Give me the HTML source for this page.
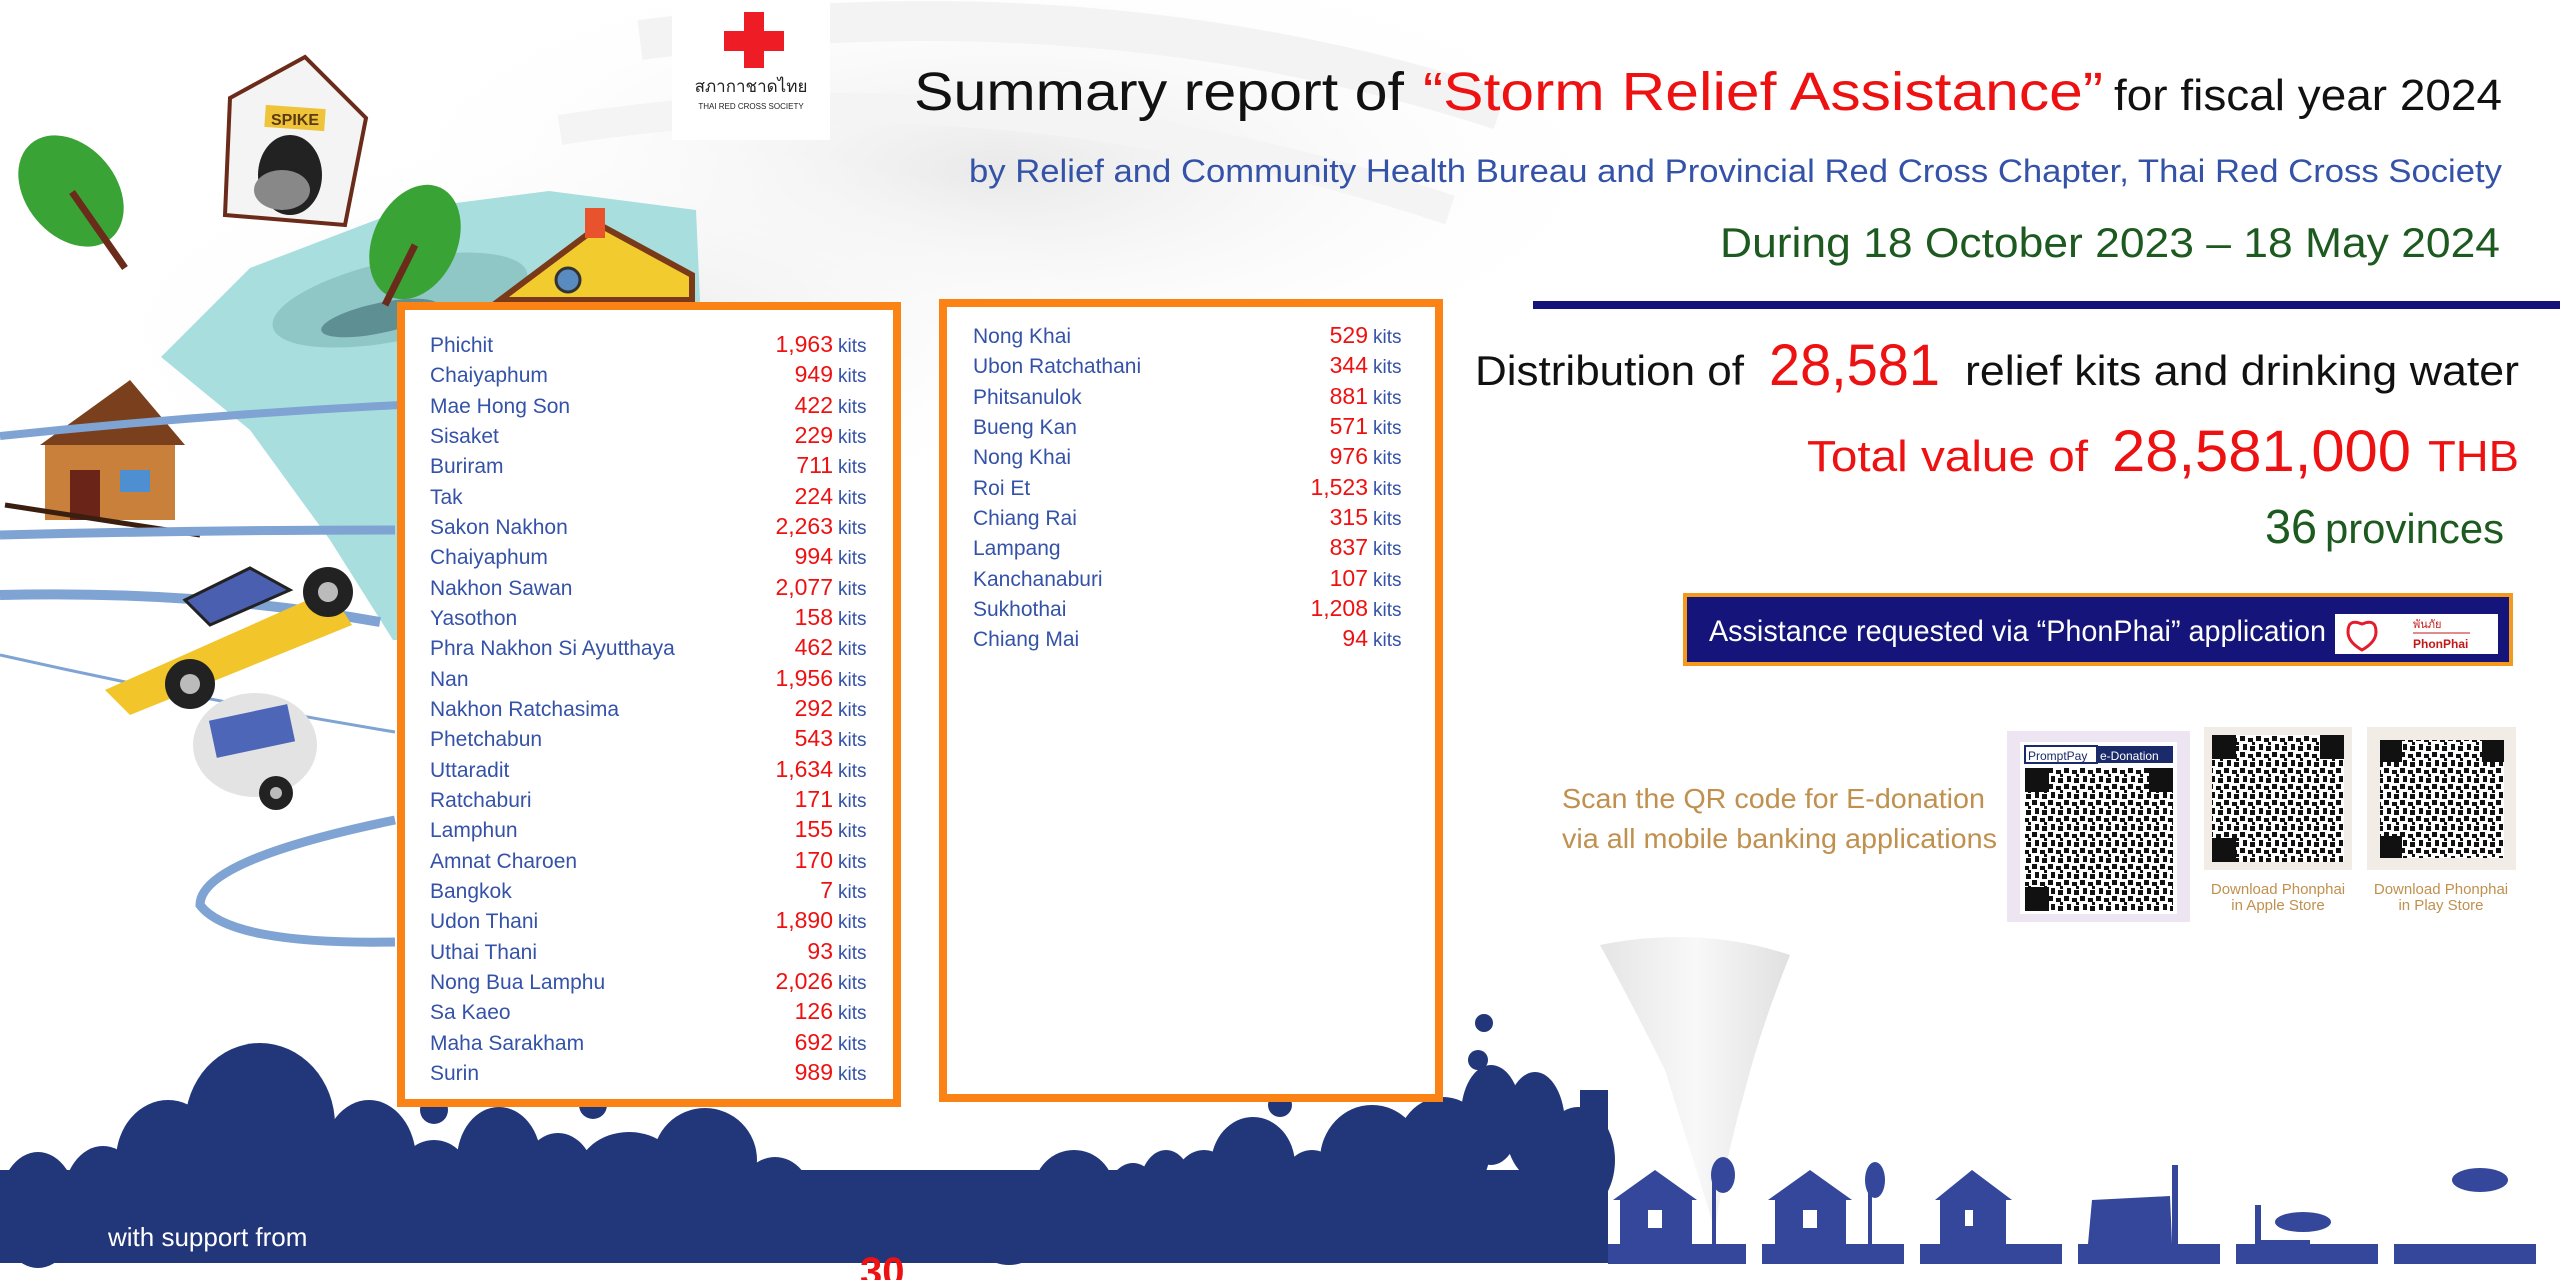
<!DOCTYPE html>
<html><head><meta charset="utf-8"><style>
html,body{margin:0;padding:0;background:#fff;}
svg{display:block;}
text{font-family:"Liberation Sans","Noto Sans CJK SC",sans-serif;}
</style></head><body>
<svg width="2560" height="1280" viewBox="0 0 2560 1280" xmlns="http://www.w3.org/2000/svg">
<defs>
<radialGradient id="gs" cx="0.5" cy="0.5" r="0.5"><stop offset="0" stop-color="#e9e9e9"/><stop offset="1" stop-color="#ffffff" stop-opacity="0"/></radialGradient>
<linearGradient id="tor" x1="0" y1="0" x2="1" y2="0"><stop offset="0" stop-color="#dcdcdc"/><stop offset="0.5" stop-color="#f6f6f6"/><stop offset="1" stop-color="#d6d6d6"/></linearGradient>
<pattern id="qr" width="16" height="16" patternUnits="userSpaceOnUse">
<rect width="16" height="16" fill="#fff"/><rect x="0" y="0" width="5" height="5" fill="#111"/><rect x="8" y="2" width="5" height="4" fill="#111"/><rect x="3" y="8" width="4" height="6" fill="#111"/><rect x="10" y="10" width="5" height="5" fill="#111"/><rect x="12" y="6" width="3" height="3" fill="#111"/>
</pattern>
</defs>

<!-- background swirl -->
<ellipse cx="1000" cy="170" rx="650" ry="230" fill="url(#gs)"/>
<ellipse cx="600" cy="330" rx="520" ry="200" fill="url(#gs)"/>
<path d="M640 40 Q1100 -20 1500 110" stroke="#f3f3f3" stroke-width="40" fill="none"/>
<path d="M560 130 Q1000 60 1450 210" stroke="#f4f4f4" stroke-width="30" fill="none"/>

<!-- left illustration -->
<polygon points="161,357 250,268 402,210 549,191 696,210 700,300 640,640 560,640 393,640 330,540 250,430" fill="#a8dede"/>
<ellipse cx="400" cy="300" rx="130" ry="40" fill="#8fc6c6" transform="rotate(-12 400 300)"/>
<ellipse cx="380" cy="318" rx="60" ry="15" fill="#5e8f93" transform="rotate(-12 380 318)"/>
<ellipse cx="71" cy="191" rx="45" ry="62" fill="#3aa335" transform="rotate(-40 71 191)"/>
<line x1="72" y1="192" x2="125" y2="268" stroke="#6b2b1b" stroke-width="7"/>
<ellipse cx="415" cy="242" rx="42" ry="60" fill="#3aa335" transform="rotate(25 415 242)"/>
<line x1="415" y1="245" x2="385" y2="305" stroke="#6b2b1b" stroke-width="7"/>
<polygon points="230,98 305,57 366,118 345,225 225,215" fill="#f4f4f4" stroke="#6b2b1b" stroke-width="4"/>
<rect x="265" y="107" width="60" height="22" fill="#f0c43a" transform="rotate(4 295 118)"/>
<text x="295" y="125" font-size="16" font-weight="bold" text-anchor="middle" fill="#5a3a10">SPIKE</text>
<ellipse cx="290" cy="175" rx="32" ry="40" fill="#222"/>
<ellipse cx="282" cy="190" rx="28" ry="20" fill="#888"/>
<polygon points="500,300 600,225 692,275 692,300" fill="#f2cc2e" stroke="#7a3a1a" stroke-width="6"/>
<rect x="585" y="208" width="20" height="30" fill="#e8522c"/>
<circle cx="568" cy="280" r="12" fill="#5a8bc0" stroke="#333" stroke-width="3"/>
<polygon points="40,445 130,380 185,445" fill="#7a3f1c"/>
<rect x="45" y="445" width="130" height="75" fill="#c8803a"/>
<rect x="70" y="470" width="30" height="50" fill="#6a2418"/>
<rect x="120" y="470" width="30" height="22" fill="#4d8fd0"/>
<line x1="5" y1="505" x2="200" y2="535" stroke="#3a1f10" stroke-width="5"/>
<path d="M0 436 Q200 415 400 405" stroke="#7fa3d3" stroke-width="8" fill="none"/>
<path d="M0 535 Q200 530 395 530" stroke="#7fa3d3" stroke-width="9" fill="none"/>
<path d="M0 595 Q200 590 380 622" stroke="#7fa3d3" stroke-width="10" fill="none"/>
<path d="M0 655 Q200 700 395 732" stroke="#7fa3d3" stroke-width="3" fill="none"/>
<path d="M395 820 Q200 860 200 905 Q230 945 395 942" stroke="#7fa3d3" stroke-width="9" fill="none"/>
<polygon points="105,690 330,590 352,625 130,715" fill="#f2c52a"/>
<polygon points="185,600 250,568 290,590 210,625" fill="#4a5fb0" stroke="#222" stroke-width="3"/>
<circle cx="190" cy="684" r="25" fill="#222"/><circle cx="190" cy="684" r="10" fill="#bbb"/>
<circle cx="328" cy="592" r="25" fill="#222"/><circle cx="328" cy="592" r="10" fill="#bbb"/>
<ellipse cx="255" cy="745" rx="62" ry="52" fill="#e3e3e3"/>
<rect x="212" y="712" width="80" height="38" fill="#4d66b8" transform="rotate(-12 252 731)"/>
<circle cx="276" cy="793" r="17" fill="#222"/><circle cx="276" cy="793" r="6" fill="#bbb"/>

<!-- logo -->
<rect x="672" y="0" width="158" height="140" fill="#fff"/>
<rect x="744" y="12" width="20" height="56" fill="#ee1c25"/>
<rect x="724" y="31" width="60" height="20" fill="#ee1c25"/>
<text x="751" y="92" font-size="17" text-anchor="middle" fill="#222">สภากาชาดไทย</text>
<text x="751" y="109" font-size="8" text-anchor="middle" fill="#222">THAI RED CROSS SOCIETY</text>

<!-- titles -->
<text y="110" font-size="54"><tspan x="914" textLength="490" lengthAdjust="spacingAndGlyphs" fill="#111">Summary report of</tspan><tspan x="1423" textLength="680" lengthAdjust="spacingAndGlyphs" fill="#ee1111">“Storm Relief Assistance”</tspan><tspan x="2114" font-size="44" textLength="388" lengthAdjust="spacingAndGlyphs" fill="#111">for fiscal year 2024</tspan></text>
<text x="969" y="182" font-size="32" textLength="1533" lengthAdjust="spacingAndGlyphs" fill="#3452a8">by Relief and Community Health Bureau and Provincial Red Cross Chapter, Thai Red Cross Society</text>
<text x="1720" y="257" font-size="42" textLength="780" lengthAdjust="spacingAndGlyphs" fill="#1d5a1f">During 18 October 2023 – 18 May 2024</text>
<rect x="1533" y="301" width="1027" height="8" fill="#14147a"/>

<text y="385"><tspan x="1475" font-size="42" textLength="269" lengthAdjust="spacingAndGlyphs" fill="#111">Distribution of</tspan><tspan x="1769" font-size="58" textLength="171" lengthAdjust="spacingAndGlyphs" fill="#ee1111">28,581</tspan><tspan x="1965" font-size="42" textLength="554" lengthAdjust="spacingAndGlyphs" fill="#111">relief kits and drinking water</tspan></text>
<text y="471" fill="#ee1111"><tspan x="1807" font-size="44" textLength="281" lengthAdjust="spacingAndGlyphs">Total value of</tspan><tspan x="2112" font-size="58" textLength="299" lengthAdjust="spacingAndGlyphs">28,581,000</tspan><tspan x="2428" font-size="44" textLength="91" lengthAdjust="spacingAndGlyphs">THB</tspan></text>
<text y="543" fill="#1d5a1f"><tspan x="2265" font-size="48" textLength="52" lengthAdjust="spacingAndGlyphs">36</tspan><tspan x="2325" font-size="42" textLength="179" lengthAdjust="spacingAndGlyphs">provinces</tspan></text>

<rect x="1685" y="595" width="826" height="69" fill="#14147a" stroke="#f39a1e" stroke-width="4"/>
<text x="1709" y="641" font-size="30" textLength="617" lengthAdjust="spacingAndGlyphs" fill="#fff">Assistance requested via “PhonPhai” application</text>
<rect x="2335" y="614" width="163" height="40" fill="#fff"/>
<path d="M2362 624 q-14 -6 -14 8 q0 10 14 18 q14 -8 14 -18 q0 -14 -14 -8z" fill="none" stroke="#e41c2c" stroke-width="3"/>
<text x="2413" y="628" font-size="11" fill="#c21818">พันภัย</text>
<line x1="2413" y1="633" x2="2470" y2="633" stroke="#c21818" stroke-width="1"/>
<text x="2413" y="648" font-size="12" font-weight="bold" fill="#c21818">PhonPhai</text>

<text x="1562" y="808" font-size="28" textLength="423" lengthAdjust="spacingAndGlyphs" fill="#c0904f">Scan the QR code for E-donation</text>
<text x="1562" y="848" font-size="28" textLength="435" lengthAdjust="spacingAndGlyphs" fill="#c0904f">via all mobile banking applications</text>
<rect x="2007" y="731" width="183" height="191" fill="#ede6f2"/>
<rect x="2020" y="742" width="157" height="172" fill="#fff"/>
<rect x="2025" y="746" width="72" height="17" fill="#fff" stroke="#1a2a6a" stroke-width="2"/>
<text x="2028" y="760" font-size="12" fill="#1a2a6a">PromptPay</text>
<rect x="2097" y="746" width="76" height="17" fill="#1a2a6a"/>
<text x="2100" y="760" font-size="12" fill="#fff">e-Donation</text>
<rect x="2025" y="768" width="148" height="143" fill="url(#qr)"/>
<rect x="2204" y="727" width="148" height="143" fill="#f1ece6"/>
<rect x="2212" y="735" width="132" height="127" fill="url(#qr)"/>
<rect x="2367" y="727" width="149" height="143" fill="#f1ece6"/>
<rect x="2380" y="740" width="124" height="118" fill="url(#qr)"/>
<g fill="#111">
<rect x="2025" y="768" width="24" height="24"/><rect x="2149" y="768" width="24" height="24"/><rect x="2025" y="887" width="24" height="24"/>
<rect x="2212" y="735" width="24" height="24"/><rect x="2320" y="735" width="24" height="24"/><rect x="2212" y="838" width="24" height="24"/>
<rect x="2380" y="740" width="22" height="22"/><rect x="2482" y="740" width="22" height="22"/><rect x="2380" y="836" width="22" height="22"/>
</g>
<text font-size="15" fill="#c0904f" text-anchor="middle"><tspan x="2278" y="894">Download Phonphai</tspan><tspan x="2278" y="910">in Apple Store</tspan><tspan x="2441" y="894">Download Phonphai</tspan><tspan x="2441" y="910">in Play Store</tspan></text>

<!-- right tornado -->
<path d="M1600 945 Q1700 925 1790 955 Q1760 1030 1745 1090 Q1725 1160 1715 1230 Q1690 1150 1665 1070 Q1630 1000 1600 945z" fill="url(#tor)" opacity="0.75"/>

<!-- clouds -->
<g fill="#22367a">
<rect x="0" y="1170" width="1608" height="93"/>
<ellipse cx="38" cy="1210" rx="40" ry="58"/>
<ellipse cx="103" cy="1200" rx="40" ry="54"/>
<ellipse cx="168" cy="1160" rx="52" ry="60"/>
<ellipse cx="260" cy="1125" rx="75" ry="82"/>
<ellipse cx="369" cy="1160" rx="47" ry="60"/>
<ellipse cx="434" cy="1180" rx="37" ry="40"/>
<ellipse cx="499" cy="1160" rx="42" ry="53"/>
<ellipse cx="558" cy="1180" rx="37" ry="47"/>
<ellipse cx="629" cy="1175" rx="52" ry="43"/>
<ellipse cx="705" cy="1160" rx="52" ry="52"/>
<ellipse cx="775" cy="1200" rx="37" ry="43"/>
<ellipse cx="819" cy="1210" rx="32" ry="38"/>
<ellipse cx="895" cy="1225" rx="37" ry="38"/>
<ellipse cx="944" cy="1230" rx="27" ry="28"/>
<ellipse cx="1009" cy="1230" rx="37" ry="35"/>
<ellipse cx="1074" cy="1190" rx="40" ry="40"/>
<ellipse cx="1133" cy="1200" rx="27" ry="37"/>
<ellipse cx="1166" cy="1190" rx="27" ry="40"/>
<ellipse cx="1204" cy="1190" rx="32" ry="40"/>
<ellipse cx="1253" cy="1165" rx="42" ry="48"/>
<ellipse cx="1312" cy="1190" rx="32" ry="40"/>
<ellipse cx="1372" cy="1160" rx="52" ry="55"/>
<ellipse cx="1443" cy="1150" rx="47" ry="53"/>
<ellipse cx="1491" cy="1115" rx="30" ry="50"/>
<ellipse cx="1535" cy="1125" rx="30" ry="53"/>
<ellipse cx="1578" cy="1160" rx="37" ry="53"/>
<rect x="1580" y="1090" width="28" height="100"/>
<circle cx="1484" cy="1023" r="9"/><circle cx="1478" cy="1060" r="10"/>
<circle cx="1280" cy="1105" r="12"/><circle cx="434" cy="1110" r="14"/><circle cx="593" cy="1105" r="14"/>
</g>
<text x="108" y="1246" font-size="26" fill="#fff">with support from</text>
<text x="860" y="1285" font-size="40" font-weight="bold" fill="#ee1111">30</text>

<g fill="#34479a">
<rect x="1608" y="1244" width="138" height="20"/><rect x="1762" y="1244" width="142" height="20"/><rect x="1920" y="1244" width="142" height="20"/><rect x="2078" y="1244" width="142" height="20"/><rect x="2236" y="1244" width="142" height="20"/><rect x="2394" y="1244" width="142" height="20"/>
<polygon points="1613,1200 1655,1170 1697,1200 1692,1200 1692,1244 1620,1244 1620,1200"/>
<ellipse cx="1723" cy="1175" rx="12" ry="18"/><rect x="1712" y="1180" width="4" height="64"/>
<polygon points="1768,1200 1810,1170 1852,1200 1846,1200 1846,1244 1775,1244 1775,1200"/>
<ellipse cx="1875" cy="1180" rx="10" ry="18"/><rect x="1868" y="1185" width="4" height="59"/>
<polygon points="1935,1200 1972,1170 2012,1200 2006,1200 2006,1244 1940,1244 1940,1200"/>
<polygon points="2092,1200 2170,1196 2172,1244 2088,1244"/><rect x="2172" y="1165" width="6" height="80"/>
<rect x="2255" y="1205" width="6" height="40"/><rect x="2255" y="1240" width="55" height="4"/>
<ellipse cx="2303" cy="1222" rx="28" ry="10"/>
<ellipse cx="2480" cy="1180" rx="28" ry="12"/>
</g>
<g fill="#fff"><rect x="1648" y="1210" width="14" height="18"/><rect x="1803" y="1210" width="14" height="18"/><rect x="1965" y="1210" width="8" height="16"/></g>

<rect x="401" y="306" width="496" height="797" fill="#fff" stroke="#fb8214" stroke-width="8"/>
<rect x="943" y="303" width="496" height="795" fill="#fff" stroke="#fb8214" stroke-width="8"/>

<g font-size="21">
<g fill="#3452a8">
<text x="430" y="352">Phichit</text><text x="430" y="382">Chaiyaphum</text><text x="430" y="413">Mae Hong Son</text><text x="430" y="443">Sisaket</text><text x="430" y="473">Buriram</text><text x="430" y="504">Tak</text><text x="430" y="534">Sakon Nakhon</text><text x="430" y="564">Chaiyaphum</text><text x="430" y="595">Nakhon Sawan</text><text x="430" y="625">Yasothon</text><text x="430" y="655">Phra Nakhon Si Ayutthaya</text><text x="430" y="686">Nan</text><text x="430" y="716">Nakhon Ratchasima</text><text x="430" y="746">Phetchabun</text><text x="430" y="777">Uttaradit</text><text x="430" y="807">Ratchaburi</text><text x="430" y="837">Lamphun</text><text x="430" y="868">Amnat Charoen</text><text x="430" y="898">Bangkok</text><text x="430" y="928">Udon Thani</text><text x="430" y="959">Uthai Thani</text><text x="430" y="989">Nong Bua Lamphu</text><text x="430" y="1019">Sa Kaeo</text><text x="430" y="1050">Maha Sarakham</text><text x="430" y="1080">Surin</text>
<text x="973" y="343">Nong Khai</text><text x="973" y="373">Ubon Ratchathani</text><text x="973" y="404">Phitsanulok</text><text x="973" y="434">Bueng Kan</text><text x="973" y="464">Nong Khai</text><text x="973" y="495">Roi Et</text><text x="973" y="525">Chiang Rai</text><text x="973" y="555">Lampang</text><text x="973" y="586">Kanchanaburi</text><text x="973" y="616">Sukhothai</text><text x="973" y="646">Chiang Mai</text>
</g>
<g fill="#ee1111" text-anchor="end" font-size="23">
<text x="833" y="352">1,963</text><text x="833" y="382">949</text><text x="833" y="413">422</text><text x="833" y="443">229</text><text x="833" y="473">711</text><text x="833" y="504">224</text><text x="833" y="534">2,263</text><text x="833" y="564">994</text><text x="833" y="595">2,077</text><text x="833" y="625">158</text><text x="833" y="655">462</text><text x="833" y="686">1,956</text><text x="833" y="716">292</text><text x="833" y="746">543</text><text x="833" y="777">1,634</text><text x="833" y="807">171</text><text x="833" y="837">155</text><text x="833" y="868">170</text><text x="833" y="898">7</text><text x="833" y="928">1,890</text><text x="833" y="959">93</text><text x="833" y="989">2,026</text><text x="833" y="1019">126</text><text x="833" y="1050">692</text><text x="833" y="1080">989</text>
<text x="1368" y="343">529</text><text x="1368" y="373">344</text><text x="1368" y="404">881</text><text x="1368" y="434">571</text><text x="1368" y="464">976</text><text x="1368" y="495">1,523</text><text x="1368" y="525">315</text><text x="1368" y="555">837</text><text x="1368" y="586">107</text><text x="1368" y="616">1,208</text><text x="1368" y="646">94</text>
</g>
<g fill="#3452a8" font-size="19">
<text x="838" y="352">kits</text><text x="838" y="382">kits</text><text x="838" y="413">kits</text><text x="838" y="443">kits</text><text x="838" y="473">kits</text><text x="838" y="504">kits</text><text x="838" y="534">kits</text><text x="838" y="564">kits</text><text x="838" y="595">kits</text><text x="838" y="625">kits</text><text x="838" y="655">kits</text><text x="838" y="686">kits</text><text x="838" y="716">kits</text><text x="838" y="746">kits</text><text x="838" y="777">kits</text><text x="838" y="807">kits</text><text x="838" y="837">kits</text><text x="838" y="868">kits</text><text x="838" y="898">kits</text><text x="838" y="928">kits</text><text x="838" y="959">kits</text><text x="838" y="989">kits</text><text x="838" y="1019">kits</text><text x="838" y="1050">kits</text><text x="838" y="1080">kits</text>
<text x="1373" y="343">kits</text><text x="1373" y="373">kits</text><text x="1373" y="404">kits</text><text x="1373" y="434">kits</text><text x="1373" y="464">kits</text><text x="1373" y="495">kits</text><text x="1373" y="525">kits</text><text x="1373" y="555">kits</text><text x="1373" y="586">kits</text><text x="1373" y="616">kits</text><text x="1373" y="646">kits</text>
</g>
</g>
</svg>
</body></html>
